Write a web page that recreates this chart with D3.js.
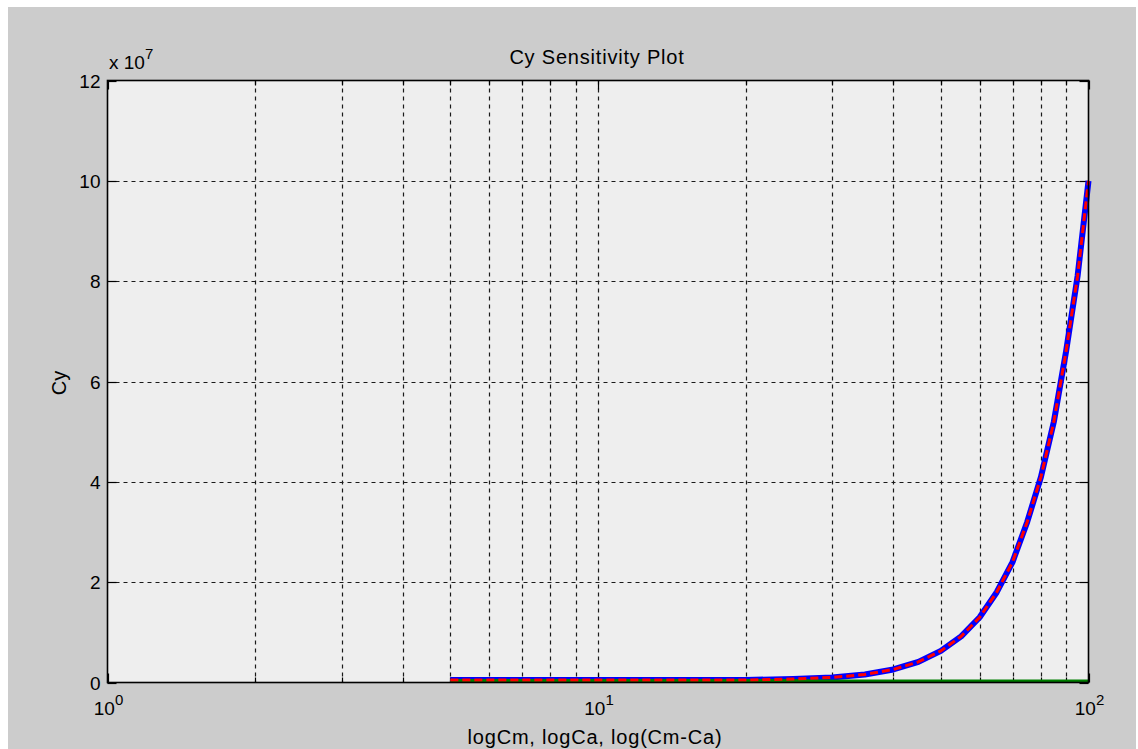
<!DOCTYPE html>
<html>
<head>
<meta charset="utf-8">
<script src="https://cdn.jsdelivr.net/npm/d3@7"></script>
<style>
  body { margin: 0; background: #fff; }
  svg { display: block; }
  text { font-family: "Liberation Sans", Arial, Helvetica, sans-serif; fill: #000; }
</style>
</head>
<body>
<div id="chart"></div>
<script>
// x values (Cm, Ca, Cm-Ca) and Cy in units of 1e7
var xVals  = [5, 10, 15, 20, 25, 30, 35, 40, 45, 50, 55, 60, 65, 70, 75, 80, 85, 90, 95, 100];
var cmVals = [0.05, 0.05, 0.05, 0.05, 0.07, 0.1, 0.16, 0.26, 0.41, 0.63, 0.92, 1.3, 1.8, 2.4, 3.2, 4.1, 5.2, 6.6, 8.1, 10.0];
var caVals = [0.05, 0.05, 0.05, 0.05, 0.07, 0.1, 0.16, 0.26, 0.41, 0.63, 0.92, 1.3, 1.8, 2.4, 3.2, 4.1, 5.2, 6.6, 8.1, 10.0];
var diffVals = [0.04, 0.04, 0.04, 0.04, 0.04, 0.03, 0.03, 0.03, 0.03, 0.03, 0.03, 0.03, 0.03, 0.03, 0.03, 0.03, 0.03, 0.03, 0.03, 0.03];
var yTicks = [0, 2, 4, 6, 8, 10, 12];
var xMajor = [1, 10, 100];
var xMinor = [2, 3, 4, 5, 6, 7, 8, 9, 20, 30, 40, 50, 60, 70, 80, 90];

var width = 1138, height = 749;
var pLeft = 107.5, pRight = 1088.5, pTop = 80.5, pBottom = 682.5;
var fs = 19;

var svg = d3.select("#chart").append("svg")
    .attr("width", width)
    .attr("height", height);

// figure background
svg.append("rect").attr("x", 8).attr("y", 7).attr("width", 1128).attr("height", 742)
    .attr("fill", "#cccccc");

var x = d3.scaleLog().domain([1, 100]).range([pLeft, pRight]);
var y = d3.scaleLinear().domain([0, 12]).range([pBottom, pTop]);

// plot area
svg.append("rect").attr("x", pLeft).attr("y", pTop)
    .attr("width", pRight - pLeft).attr("height", pBottom - pTop)
    .attr("fill", "#eeeeee");

var grid = svg.append("g").attr("stroke", "#1a1a1a").attr("stroke-width", 1.2)
    .attr("stroke-dasharray", "4,4");

// vertical grid lines (log, major + minor)
grid.selectAll("line.v")
    .data(xMinor.concat([10]))
    .enter().append("line")
    .attr("class", "v")
    .attr("x1", function(d) { return Math.round(x(d)) + 0.5; })
    .attr("x2", function(d) { return Math.round(x(d)) + 0.5; })
    .attr("y1", pTop).attr("y2", pBottom);

// horizontal grid lines
grid.selectAll("line.h")
    .data(yTicks.slice(1, -1))
    .enter().append("line")
    .attr("class", "h")
    .attr("x1", pLeft).attr("x2", pRight)
    .attr("y1", function(d) { return Math.round(y(d)) + 0.5; })
    .attr("y2", function(d) { return Math.round(y(d)) + 0.5; });

// ticks (inside, on all four sides)
var ticks = svg.append("g").attr("stroke", "#000").attr("stroke-width", 1.2);
xMajor.forEach(function(d) {
  var px = Math.round(x(d)) + 0.5;
  ticks.append("line").attr("x1", px).attr("x2", px).attr("y1", pBottom).attr("y2", pBottom - 9);
  ticks.append("line").attr("x1", px).attr("x2", px).attr("y1", pTop).attr("y2", pTop + 9);
});
xMinor.forEach(function(d) {
  var px = Math.round(x(d)) + 0.5;
  ticks.append("line").attr("x1", px).attr("x2", px).attr("y1", pBottom).attr("y2", pBottom - 5);
  ticks.append("line").attr("x1", px).attr("x2", px).attr("y1", pTop).attr("y2", pTop + 5);
});
yTicks.forEach(function(d) {
  var py = Math.round(y(d)) + 0.5;
  ticks.append("line").attr("x1", pLeft).attr("x2", pLeft + 9).attr("y1", py).attr("y2", py);
  ticks.append("line").attr("x1", pRight).attr("x2", pRight - 9).attr("y1", py).attr("y2", py);
});

// data lines
var line = function(vals) {
  return d3.line()
    .x(function(d, i) { return x(xVals[i]); })
    .y(function(d) { return y(d); })(vals);
};

svg.append("path").attr("d", line(cmVals))
    .attr("fill", "none").attr("stroke", "#0000ff").attr("stroke-width", 6)
    .attr("stroke-linejoin", "round");
svg.append("path").attr("d", line(diffVals))
    .attr("fill", "none").attr("stroke", "#007f00").attr("stroke-width", 3);
svg.append("path").attr("d", line(caVals))
    .attr("fill", "none").attr("stroke", "#ff0000").attr("stroke-width", 3)
    .attr("stroke-dasharray", "8,4");

// axes box
svg.append("rect").attr("x", pLeft).attr("y", pTop)
    .attr("width", pRight - pLeft).attr("height", pBottom - pTop)
    .attr("fill", "none").attr("stroke", "#000").attr("stroke-width", 1.6);

// y tick labels
svg.selectAll("text.ytick")
    .data(yTicks)
    .enter().append("text")
    .attr("class", "ytick")
    .attr("x", pLeft - 7)
    .attr("y", function(d) { return y(d) + 7; })
    .attr("text-anchor", "end")
    .attr("font-size", fs)
    .text(function(d) { return d; });

// x tick labels (10^n)
xMajor.forEach(function(d, i) {
  var t = svg.append("text")
      .attr("x", x(d) + 1)
      .attr("y", 715)
      .attr("text-anchor", "middle")
      .attr("font-size", fs);
  t.append("tspan").text("10");
  t.append("tspan").attr("dy", -10).attr("font-size", 15).text(i);
});

// exponent label
var ex = svg.append("text").attr("x", 109).attr("y", 69).attr("font-size", fs);
ex.append("tspan").text("x 10");
ex.append("tspan").attr("dy", -10).attr("font-size", 15).text("7");

// title and axis labels
svg.append("text").attr("x", 597).attr("y", 64)
    .attr("text-anchor", "middle").attr("font-size", fs + 1)
    .attr("letter-spacing", 0.8)
    .text("Cy Sensitivity Plot");

svg.append("text").attr("x", 595).attr("y", 744)
    .attr("text-anchor", "middle").attr("font-size", fs + 1)
    .attr("letter-spacing", 0.8)
    .text("logCm, logCa, log(Cm-Ca)");

svg.append("text")
    .attr("transform", "translate(66," + 383 + ") rotate(-90)")
    .attr("text-anchor", "middle").attr("font-size", fs + 1)
    .text("Cy");
</script>
</body>
</html>
